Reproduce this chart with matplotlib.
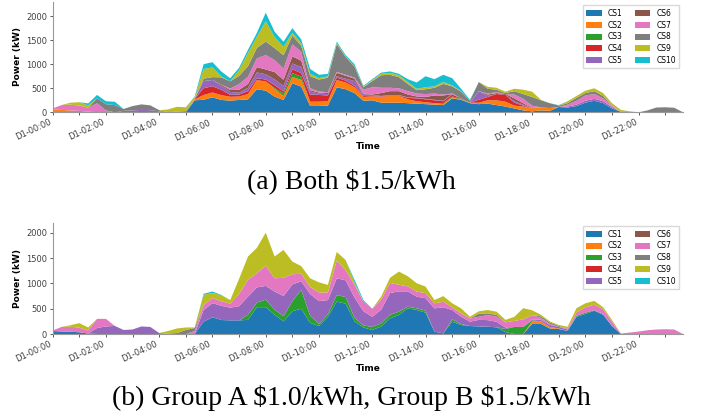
import matplotlib.pyplot as plt
import numpy as np

# 20-minute samples over one day (D1-00:00 .. D1-23:40)
hours = np.arange(72) / 3
stations = ['CS1', 'CS2', 'CS3', 'CS4', 'CS5', 'CS6', 'CS7', 'CS8', 'CS9', 'CS10']
tick_hours = list(range(24))
tick_labels = [f'D1-{h:02d}:00' if h % 2 == 0 else '' for h in tick_hours]

# (a) both groups at $1.5/kWh, power in kW
both_cs1 = [0] * 16 + [250, 260, 312, 257, 243, 257, 270, 479, 451, 326, 257, 604, 534, 131, 131, 140,
                       520, 480, 400, 240, 250, 200, 200, 200, 190, 180, 170, 160, 150, 290, 260, 190,
                       170, 180, 150, 120, 80, 40, 20, 40, 30, 110, 100, 130, 200, 240, 190, 80, 10] + [0] * 7
both_cs2 = [60, 50, 40, 30, 15] + [0] * 11 + [20, 100, 100, 100, 80, 70, 110, 190, 190, 160, 80, 130, 140,
                                             90, 90, 90, 150, 140, 120, 80, 80, 120, 140, 140, 80, 50, 40,
                                             30, 20, 20, 10, 10, 30, 70, 100, 100, 60, 80, 60, 60, 60] + [0] * 15
both_cs3 = [0] * 25 + [20, 60, 80, 70] + [0] * 15 + [20, 20, 10] + [0] * 25
both_cs4 = [0] * 16 + [10, 140, 130, 110, 40, 40, 60, 40, 40, 60, 40, 80, 70, 150, 140, 120, 50, 40, 30,
                       20, 10, 10, 10, 10, 30, 60, 60, 60, 40, 40, 10, 0, 60, 70, 130, 140, 60, 20] + [0] * 18
both_cs5 = [0] * 8 + [30, 40, 50, 45, 20] + [0] * 4 + [150, 130, 90, 60, 40, 70, 120, 110, 120, 110, 120,
                                                      130, 60, 30, 30, 30, 40, 100, 40, 20, 10, 10, 10, 10,
                                                      10, 10, 10, 10, 10, 0, 0, 180, 20, 0, 0, 30, 20, 0, 0,
                                                      0, 0, 20, 30, 40, 40, 40, 30] + [0] * 8
both_cs6 = [0] * 19 + [20, 40, 60, 80, 110, 100, 150, 130, 150, 130, 30, 20, 20, 70, 60, 50, 10, 10, 60,
                       80, 80, 60, 30, 40, 90, 110, 0, 0, 0, 0, 30, 20, 20, 60, 30, 10] + [0] * 17
both_cs7 = [20, 100, 120, 110, 80, 187, 40] + [0] * 13 + [30, 120, 150, 180, 300, 250, 230, 250, 180, 40,
                                                         20, 20, 20, 20, 20, 80, 150, 110, 70, 60, 70, 60,
                                                         60, 40, 20, 10, 0, 0, 0, 20, 20, 0, 80, 90, 50, 0,
                                                         0, 0, 40, 80, 110, 100, 60, 30] + [0] * 8
both_cs8 = [0] * 5 + [104, 130, 150, 40, 90, 115, 100, 25, 0, 15, 25, 0, 50, 60, 150, 150, 170, 220, 220,
                      280, 250, 280, 180, 130, 250, 250, 300, 580, 370, 230, 50, 130, 260, 270, 230, 150,
                      70, 100, 120, 220, 150, 140, 40, 190, 100, 50, 20, 70, 100, 180, 150, 100, 30, 30,
                      60, 50, 60, 50, 0, 0, 0, 0, 40, 100, 105, 95, 0]
both_cs9 = [0, 0, 40, 70, 50] + [0] * 8 + [60, 100, 80, 30, 200, 200, 20, 0, 120, 270, 230, 420, 230, 170,
                                          60, 50, 50, 30, 30, 20, 10, 10, 10, 20, 30, 40, 40, 40, 30, 40,
                                          30, 40, 20, 10, 0, 0, 40, 40, 30, 50, 90, 110, 10, 0, 0, 40, 40,
                                          50, 60, 60, 50, 40, 20] + [0] * 6
both_cs10 = [0] * 4 + [40, 70, 60, 70] + [0] * 8 + [20, 100, 110, 100, 65, 50, 70, 80, 180, 110, 110, 95,
                                                   80, 100, 70, 50, 30, 30, 40, 20, 20, 25, 30, 30, 60,
                                                   130, 230, 150, 150, 150, 50, 20] + [0] * 9 + [10] + [0] * 14

# (b) group A at $1.0/kWh, group B at $1.5/kWh
group_cs1 = [60, 50, 45, 35, 10] + [0] * 12 + [244, 330, 277, 270, 270, 280, 530, 530, 380, 250, 450, 500,
                                              220, 160, 340, 640, 600, 250, 130, 80, 150, 310, 376, 508,
                                              475, 422, 46, 13, 244, 178, 158, 150, 145, 132, 40, 0, 0,
                                              200, 200, 110, 100, 60, 340, 396, 460, 380, 158] + [0] * 8
group_cs2 = [0] * 54 + [50, 50, 30, 10] + [0] * 14
group_cs3 = [0] * 22 + [100, 90, 150, 100, 100, 200, 370, 140, 40, 50, 130, 130, 70, 40, 60, 60, 70, 66,
                        33, 33, 40, 0, 0, 46, 20, 0, 0, 0, 0, 60, 140, 140, 20, 0, 0, 0, 0, 20, 26, 10] + [0] * 10
group_cs4 = [0] * 72
group_cs5 = [0] * 5 + [120, 150, 160, 80, 90, 150, 140, 20] + [0] * 4 + [230, 280, 280, 250, 280, 360, 300,
                                                                       270, 360, 400, 330, 170, 430, 450,
                                                                       280, 330, 330, 400, 280, 200, 270,
                                                                       430, 400, 300, 230, 245, 460, 515,
                                                                       185, 145, 86, 130, 130, 110, 30, 0,
                                                                       0, 20, 30, 40, 30, 30, 0, 0, 0,
                                                                       20] + [0] * 9
group_cs6 = [0] * 72
group_cs7 = [10, 90, 100, 90, 60, 180, 150] + [0] * 9 + [60, 100, 100, 90, 80, 240, 330, 280, 400, 260, 360,
                                                        200, 150, 140, 170, 150, 350, 200, 250, 190, 160,
                                                        200, 200, 130, 100, 100, 100, 100, 110, 53, 66, 66,
                                                        60, 100, 100, 100, 120, 150, 80, 40, 20, 0, 20, 70,
                                                        105, 110, 90, 86, 10, 30, 50, 75, 90, 95, 90, 0]
group_cs8 = [0] * 13 + [10, 20, 80, 60] + [0] * 31 + [60, 33, 33] + [0] * 4 + [30, 30, 20] + [0] * 14
group_cs9 = [0, 0, 30, 90, 60] + [0] * 8 + [50, 90, 50, 10, 200, 100, 120, 70, 300, 460, 500, 650, 430,
                                           550, 250, 150, 170, 200, 150, 170, 200, 50, 0, 0, 60, 100, 260,
                                           200, 165, 130, 66, 110, 79, 99, 33, 50, 66, 66, 50, 80, 220,
                                           100, 30, 20, 20, 35, 80, 80, 75, 40, 33] + [0] * 8
group_cs10 = [0] * 17 + [20, 30, 5] + [0] * 14 + [50, 30] + [0] * 36

both = [both_cs1, both_cs2, both_cs3, both_cs4, both_cs5,
        both_cs6, both_cs7, both_cs8, both_cs9, both_cs10]
group = [group_cs1, group_cs2, group_cs3, group_cs4, group_cs5,
         group_cs6, group_cs7, group_cs8, group_cs9, group_cs10]

colors = plt.get_cmap('tab10').colors


def draw_panel(ax, series, ymax):
    ax.stackplot(hours, *series, labels=stations, colors=colors, linewidth=0)
    ax.set_xlim(0, hours[-1])
    ax.set_ylim(0, ymax)
    ax.set_xticks(tick_hours)
    ax.set_xticklabels(tick_labels, rotation=25, ha='right')
    ax.set_yticks([0, 500, 1000, 1500, 2000])
    ax.tick_params(labelsize=6, colors='0.25', length=2.5, width=0.6, pad=1.5)
    for side in ['top', 'right']:
        ax.spines[side].set_visible(False)
    for side in ['left', 'bottom']:
        ax.spines[side].set_color('0.6')
        ax.spines[side].set_linewidth(0.8)
    ax.set_xlabel('Time', fontsize=6.5, fontweight='bold', labelpad=0)
    ax.set_ylabel('Power (kW)', fontsize=6.5, fontweight='bold', labelpad=3)
    ax.legend(loc='upper right', ncol=2, fontsize=5.5, frameon=True, fancybox=False,
              edgecolor='0.85', framealpha=1, columnspacing=1.6, borderpad=0.45,
              labelspacing=0.35, handleheight=0.8)


fig = plt.figure(figsize=(7.02, 4.16), dpi=100)
ax_a = fig.add_axes([0.075, 0.730, 0.898, 0.266])
ax_b = fig.add_axes([0.075, 0.197, 0.898, 0.268])

draw_panel(ax_a, both, 2300)
draw_panel(ax_b, group, 2200)

fig.text(0.5, 1 - 181 / 416, r'(a) Both \$1.5/kWh', ha='center', va='center',
         fontsize=20, family='Liberation Serif')
fig.text(0.5, 1 - 398 / 416, r'(b) Group A \$1.0/kWh, Group B \$1.5/kWh', ha='center', va='center',
         fontsize=20, family='Liberation Serif')

fig.savefig('out.png', dpi=100, facecolor='white')
